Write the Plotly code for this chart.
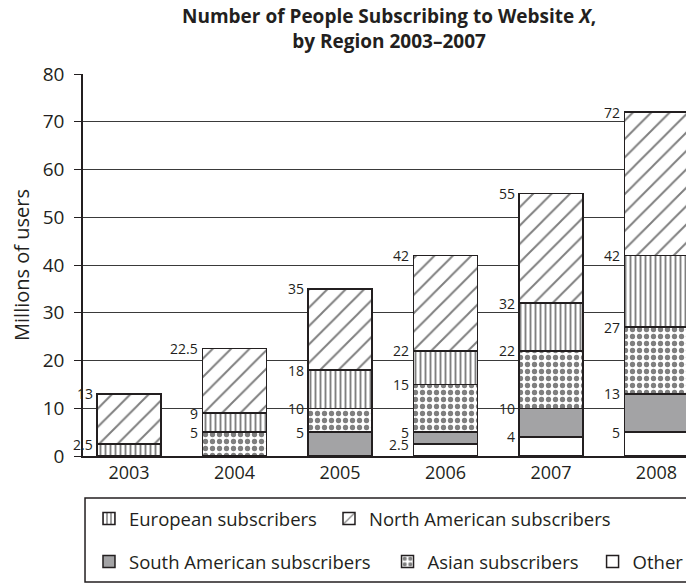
import plotly.graph_objects as go

years = ["2003", "2004", "2005", "2006", "2007", "2008"]
other = [0, 0, 0, 2.5, 4, 5]
south_american = [0, 0, 5, 2.5, 6, 8]
asian = [0, 5, 5, 10, 12, 14]
european = [2.5, 4, 8, 7, 10, 15]
north_american = [10.5, 13.5, 17, 20, 23, 30]

FONT = "Open Sans"
INK = "#231f20"
x = list(range(len(years)))
bar_w = 0.607

# (name, values, pattern, legend id) in stacking order bottom -> top
series = [
    ("Other", other, dict(bgcolor="white"), "legend5"),
    ("South American subscribers", south_american, dict(bgcolor="#a3a3a5"), "legend3"),
    ("Asian subscribers", asian, dict(shape=".", fgcolor="black", bgcolor="white", size=7, solidity=0.45), "legend4"),
    ("European subscribers", european, dict(shape="|", fgcolor="black", bgcolor="white", size=5, solidity=0.38), "legend"),
    ("North American subscribers", north_american, dict(shape="/", fgcolor="black", bgcolor="white", size=13, solidity=0.15), "legend2"),
]

fig = go.Figure()
for name, vals, pat, leg in series:
    fig.add_trace(go.Bar(
        x=x, y=[v if v else None for v in vals], name=name, width=bar_w,
        legend=leg, showlegend=True,
        marker=dict(color=pat.get("bgcolor", "white"), pattern=pat,
                    line=dict(color=INK, width=1.5)),
        hoverinfo="skip",
    ))

# cumulative labels left of each segment top
cum = [0] * len(years)
for name, vals, pat, leg in series:
    for i, v in enumerate(vals):
        if v == 0:
            continue
        cum[i] += v
        fig.add_annotation(
            x=i - bar_w / 2, y=cum[i], xref="x", yref="y",
            text=f"{cum[i]:g}", showarrow=False, xanchor="right", yanchor="middle",
            xshift=-2, font=dict(family=FONT, size=14, color=INK),
        )

fig.add_annotation(
    text="<b>Number of People Subscribing to Website <i>X</i>,<br>by Region 2003–2007</b>",
    xref="paper", yref="paper", x=0.5, y=1, yanchor="bottom", yshift=18,
    showarrow=False, font=dict(family=FONT, size=19, color=INK),
)

# legend frame
fig.add_shape(type="rect", xref="paper", yref="paper",
              x0=0.0033, x1=1.03, y0=-0.330, y1=-0.110,
              line=dict(color=INK, width=1.5), fillcolor="rgba(0,0,0,0)")

leg_common = dict(orientation="h", xanchor="left", yanchor="middle",
                  bgcolor="rgba(0,0,0,0)", borderwidth=0,
                  font=dict(family=FONT, size=18.5, color=INK))

fig.update_layout(
    width=694, height=584,
    barmode="stack",
    showlegend=True,
    plot_bgcolor="white", paper_bgcolor="white",
    margin=dict(l=75, r=8, t=66, b=136),
    font=dict(family=FONT, color=INK),
    legend=dict(x=0.0098, y=-0.165, **leg_common),
    legend2=dict(x=0.4026, y=-0.165, **leg_common),
    legend3=dict(x=0.0098, y=-0.2775, **leg_common),
    legend4=dict(x=0.4984, y=-0.2775, **leg_common),
    legend5=dict(x=0.834, y=-0.2775, **leg_common),
)
fig.update_xaxes(
    range=[-0.436, 5.356], tickvals=x, ticktext=years,
    showline=True, linecolor=INK, linewidth=1.5,
    showgrid=False, ticks="", tickfont=dict(family=FONT, size=18),
    automargin=False,
)
fig.update_yaxes(
    range=[0, 80], dtick=10,
    showline=True, linecolor=INK, linewidth=1.5,
    showgrid=True, gridcolor="#3a3a3a", gridwidth=1,
    ticks="outside", ticklen=7, tickcolor=INK, ticklabelstandoff=6,
    tickfont=dict(family=FONT, size=19), zeroline=False, automargin=False,
    title=dict(text="Millions of users", font=dict(family=FONT, size=20), standoff=10),
)

fig.write_html("out.html")
